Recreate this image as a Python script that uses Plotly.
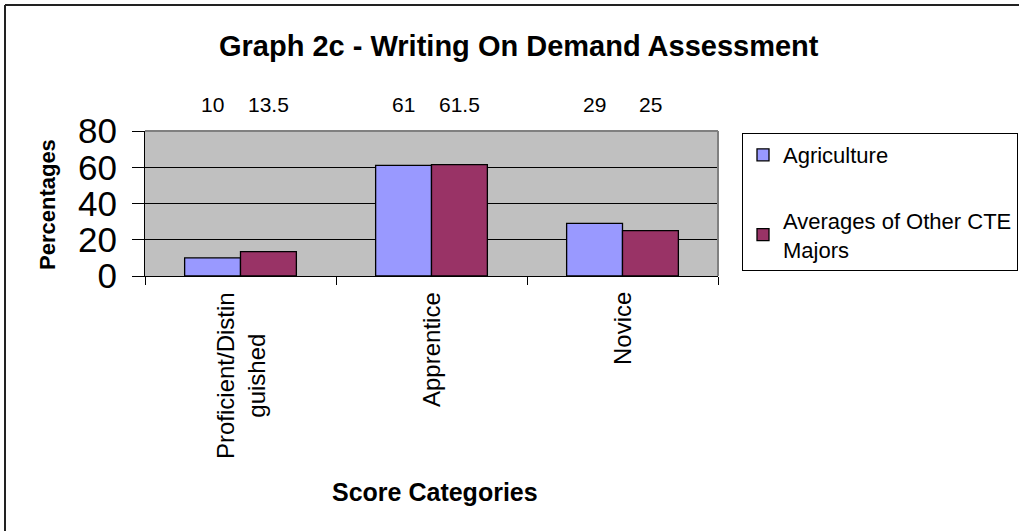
import plotly.graph_objects as go

categories = ["Proficient/Distinguished", "Apprentice", "Novice"]
category_labels = ["Proficient/Distin<br>guished", "Apprentice", "Novice"]
agriculture = [10, 61, 29]
other_cte = [13.5, 61.5, 25]
series_names = ["Agriculture", "Averages of Other CTE<br>Majors"]
y_ticks = [0, 20, 40, 60, 80]

FONT = "Liberation Sans, Arial, sans-serif"

W, H = 1019, 531
L, R, T, B = 145, 718, 131, 276
pw, ph = R - L, B - T


def px(x):
    return (x - L) / pw


def py(y):
    return (B - y) / ph


fig = go.Figure()
fig.add_trace(go.Bar(x=categories, y=agriculture, name=series_names[0],
                     marker=dict(color="#9999FF", line=dict(color="black", width=1.3)),
                     legendgroup="a"))
fig.add_trace(go.Bar(x=categories, y=other_cte, name=series_names[1],
                     marker=dict(color="#993366", line=dict(color="black", width=1.3)),
                     legendgroup="b"))

bargap = 0.415
cat_px = pw / len(categories)
bar_px = cat_px * (1 - bargap) / 2

annotations = []
for cat, a, o in zip(categories, agriculture, other_cte):
    for val, sh in ((a, -bar_px / 2), (o, bar_px / 2)):
        annotations.append(dict(x=cat, xref="x", y=py(104), yref="paper",
                                text=f"{val:g}", showarrow=False, xshift=sh,
                                yanchor="middle", font=dict(size=21, color="black")))
for cat, lab in zip(categories, category_labels):
    annotations.append(dict(x=cat, xref="x", y=py(290), yref="paper",
                            text=lab, showarrow=False, textangle=-90,
                            yanchor="top", xanchor="center", align="center",
                            font=dict(size=24, color="black")))
annotations.append(dict(x=px(519), xref="paper", y=py(46), yref="paper",
                        text="<b>Graph 2c - Writing On Demand Assessment</b>",
                        showarrow=False, font=dict(size=29, color="black"),
                        xanchor="center", yanchor="middle"))
annotations.append(dict(x=px(47), xref="paper", y=py(205), yref="paper",
                        text="<b>Percentages</b>", textangle=-90, showarrow=False,
                        font=dict(size=22, color="black"),
                        xanchor="center", yanchor="middle"))
annotations.append(dict(x=px(435), xref="paper", y=py(492), yref="paper",
                        text="<b>Score Categories</b>", showarrow=False,
                        font=dict(size=25, color="black"),
                        xanchor="center", yanchor="middle"))

shapes = [
    # outer chart border (left and top edges visible in the picture)
    dict(type="line", xref="paper", yref="paper",
         x0=px(5), x1=px(5), y0=py(H + 10), y1=py(5),
         line=dict(color="#222222", width=2), layer="below"),
    dict(type="line", xref="paper", yref="paper",
         x0=px(5), x1=px(W + 10), y0=py(5), y1=py(5),
         line=dict(color="#222222", width=2), layer="below"),
    # plot-area border (top and right in grey)
    dict(type="line", xref="paper", yref="paper", x0=0, x1=1, y0=1, y1=1,
         line=dict(color="#808080", width=2), layer="above"),
    dict(type="line", xref="paper", yref="paper", x0=1, x1=1, y0=0, y1=1,
         line=dict(color="#808080", width=2), layer="above"),
]

fig.update_layout(
    width=W, height=H,
    margin=dict(l=L, r=W - R, t=T, b=H - B, autoexpand=False),
    paper_bgcolor="white", plot_bgcolor="#C0C0C0",
    font=dict(family=FONT, color="black"),
    barmode="group", bargap=bargap, bargroupgap=0,
    showlegend=True,
    legend=dict(x=px(742), y=py(133), xanchor="left", yanchor="top",
                bordercolor="black", borderwidth=1, bgcolor="white",
                font=dict(size=22, color="black"), tracegroupgap=34,
                traceorder="grouped", itemwidth=30),
    annotations=annotations, shapes=shapes,
)
fig.update_xaxes(showticklabels=False, tickson="boundaries", ticks="outside",
                 ticklen=8, tickcolor="black", showline=True, linecolor="black",
                 linewidth=1, showgrid=False, fixedrange=True)
fig.update_yaxes(range=[0, 80], tickvals=y_ticks, ticks="outside", ticklen=12,
                 tickcolor="black", showline=True, linecolor="black", linewidth=1,
                 showgrid=True, gridcolor="black", gridwidth=1, ticklabelstandoff=8,
                 tickfont=dict(size=35, color="black"), zeroline=False, fixedrange=True)

fig.write_html("out.html", config={"displayModeBar": False},
               post_script="document.body.style.margin='0px';")
